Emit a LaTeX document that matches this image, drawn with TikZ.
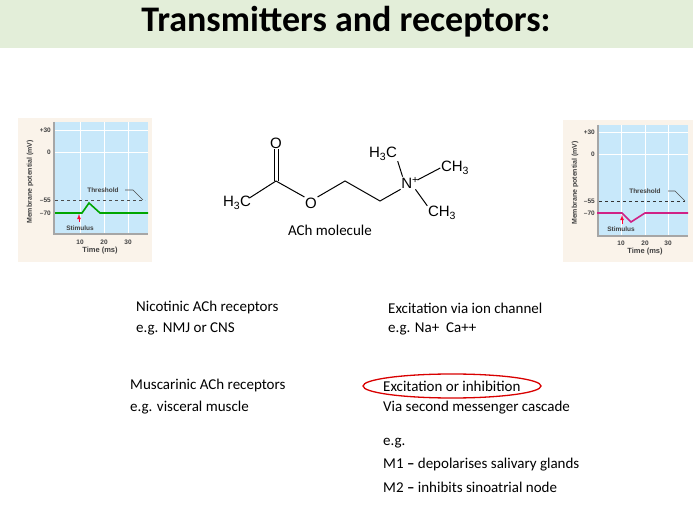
\documentclass[tikz,border=0pt]{standalone}
\usepackage{fontspec}
\setmainfont{Carlito}
\setsansfont{Liberation Sans}
\begin{document}
\begin{tikzpicture}[x=1pt,y=-1pt,
  txt/.style={anchor=west,inner sep=0pt,font=\fontsize{15}{18}\selectfont},
  chem/.style={inner sep=0.5pt,font=\sffamily\fontsize{15}{18}\selectfont},
  tiny/.style={inner sep=0pt,font=\sffamily\bfseries\fontsize{6.5}{7}\selectfont,text=black!75},
  bond/.style={line width=1pt}]
\useasboundingbox (0,0) rectangle (693,526);
\fill[white] (0,0) rectangle (693,526);
\fill[fill={rgb,255:red,227;green,238;blue,217}] (0,0) rectangle (693,48);
\node[inner sep=0pt,font=\bfseries\fontsize{36}{40}\selectfont] (title) at (346,22) {Transmitters and receptors:};

% ---------- left graph
\fill[fill={rgb,255:red,250;green,243;blue,234}] (18,118) rectangle (152,262);
\fill[fill={rgb,255:red,200;green,232;blue,250}] (53,122) rectangle (148,233);
\foreach \x in {80,104,128} \draw[white,line width=0.8pt] (\x,122) -- (\x,233);
\foreach \y in {130,152} \draw[white,line width=0.8pt] (53,\y) -- (148,\y);
\draw[gray!70,line width=2pt] (54,122) -- (54,234) -- (148,234);
\draw[dashed,black!70,line width=0.8pt] (55,200) -- (145,200);
\draw[green!65!black,line width=1.6pt] (55,213) -- (82,213) -- (89,203) -- (100,213) -- (148,213);
\draw[black!70,line width=0.6pt] (125,190) -- (133,190) -- (143,200);
\node[tiny] (thl) at (103,190) {Threshold};
\draw[-latex,red!80!magenta,line width=0.8pt] (79,222) -- (79,214);
\node[tiny] (stl) at (80,228) {Stimulus};
\foreach \v/\y in {+30/130,0/152,–55/200,–70/213} \node[tiny,anchor=east] at (51,\y) {\v};
\foreach \x/\t in {80/10,104/20,128/30} \node[tiny] at (\x,242) {\t};
\node[tiny,font=\sffamily\bfseries\fontsize{7.5}{8}\selectfont] (tl) at (100,251) {Time (ms)};
\node[tiny,rotate=90,font=\sffamily\bfseries\fontsize{7}{8}\selectfont] (yl) at (30,182) {Membrane potential (mV)};

% ---------- right graph
\fill[fill={rgb,255:red,250;green,243;blue,234}] (563,120) rectangle (693,262);
\fill[fill={rgb,255:red,200;green,232;blue,250}] (597,125) rectangle (688,235);
\foreach \x in {621,645,668} \draw[white,line width=0.8pt] (\x,125) -- (\x,235);
\foreach \y in {132,154} \draw[white,line width=0.8pt] (597,\y) -- (688,\y);
\draw[gray!70,line width=2pt] (598,125) -- (598,236) -- (688,236);
\draw[dashed,black!80,line width=0.8pt] (599,201) -- (685,201);
\draw[magenta!70!violet,line width=1.6pt] (597,213) -- (622,213) -- (631,222) -- (645,213) -- (688,213);
\draw[black!70,line width=0.6pt] (668,191) -- (675,191) -- (685,201);
\node[tiny] (thr) at (645,191) {Threshold};
\draw[-latex,red!80!magenta,line width=0.8pt] (622,224) -- (622,215);
\node[tiny] (str) at (621,229) {Stimulus};
\foreach \v/\y in {+30/132,0/154,–55/201,–70/213} \node[tiny,anchor=east] at (595,\y) {\v};
\foreach \x/\t in {621/10,645/20,668/30} \node[tiny] at (\x,243) {\t};
\node[tiny,font=\sffamily\bfseries\fontsize{7.5}{8}\selectfont] (tr) at (645,252) {Time (ms)};
\node[tiny,rotate=90,font=\sffamily\bfseries\fontsize{7}{8}\selectfont] (yr) at (575,183) {Membrane potential (mV)};

% ---------- molecule
\node[chem] (h3c) at (237,203) {H\textsubscript{3}C};
\coordinate (c1) at (276,181);
\node[chem] (o1) at (276,143) {O};
\node[chem] (o2) at (311,203) {O};
\coordinate (c2) at (345,181);
\coordinate (c3) at (380,201);
\node[chem] (n) at (410,183) {N\textsuperscript{+}};
\node[chem] (me1) at (383,154) {H\textsubscript{3}C};
\node[chem] (me2) at (455,168) {CH\textsubscript{3}};
\node[chem] (me3) at (442,213) {CH\textsubscript{3}};
\draw[bond] (h3c.north east) ++(-2,2) -- (c1);
\draw[bond] (c1) -- (o2.north west);
\draw[bond] ([xshift=-2pt]c1) -- ([xshift=-2pt]o1.south);
\draw[bond] ([xshift=2pt]c1) -- ([xshift=2pt]o1.south);
\draw[bond] (o2.north east) -- (c2) -- (c3) -- (n.south west);
\draw[bond] (n.north west) ++(2,0) -- (me1.south east);
\draw[bond] (n.east) ++(-2,-3) -- (me2.west);
\draw[bond] (n.south east) ++(-4,0) -- (me3.north west);
\node[txt,anchor=center] (lbl) at (330,230) {ACh molecule};

% ---------- texts
\node[txt] (t1) at (136,308) {Nicotinic ACh receptors};
\node[txt] (t2) at (136,329) {e.g. NMJ or CNS};
\node[txt] (t3) at (388,308) {Excitation via ion channel};
\node[txt] (t4) at (388,329) {e.g. Na+\ \ Ca++};
\node[txt] (t5) at (130,386) {Muscarinic ACh receptors};
\node[txt] (t6) at (130,408) {e.g. visceral muscle};
\node[txt] (t7) at (383,386) {Excitation or inhibition};
\draw[red!85!black,line width=1.3pt] (452,386) ellipse [x radius=89,y radius=12];
\node[txt] (t8) at (383,408) {Via second messenger cascade};
\node[txt] (t9) at (383,443) {e.g.};
\node[txt] (t10) at (383,465) {M1 \textbf{--} depolarises salivary glands};
\node[txt] (t11) at (383,487) {M2 \textbf{--} inhibits sinoatrial node};
\end{tikzpicture}
\end{document}
